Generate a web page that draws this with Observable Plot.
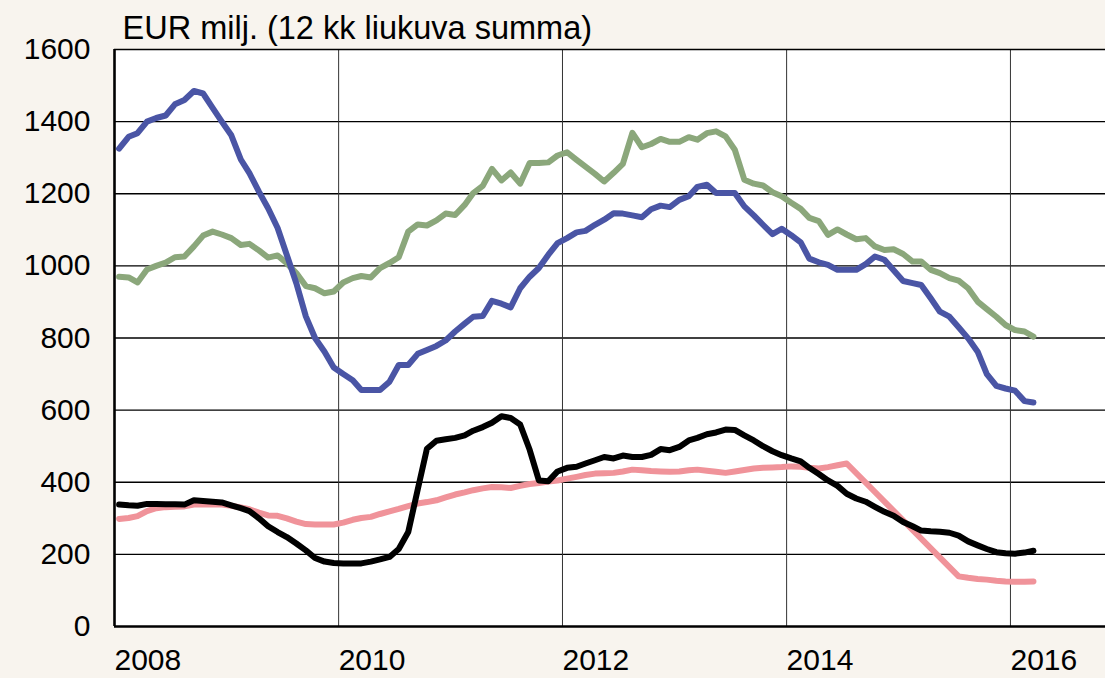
<!DOCTYPE html>
<html>
<head>
<meta charset="utf-8">
<script src="https://cdn.jsdelivr.net/npm/d3@7"></script>
<script src="https://cdn.jsdelivr.net/npm/@observablehq/plot@0.6"></script>
<style>
  html, body { margin: 0; padding: 0; background: #f8f4ee; }
  #chart { width: 1105px; height: 678px; overflow: hidden; }
</style>
</head>
<body>
<div id="chart"></div>
<script>
// Monthly values, Jan 2008 .. Mar 2016 (12-month rolling sums, EUR million)
const title = "EUR milj. (12 kk liukuva summa)";
const startYear = 2008;
const yearTicks = [2008, 2010, 2012, 2014, 2016];
const yTicks = [0, 200, 400, 600, 800, 1000, 1200, 1400, 1600];

const blue = [1325,1358,1368,1400,1410,1417,1448,1460,1485,1478,1438,1400,
  1362,1295,1257,1206,1160,1105,1030,952,860,800,762,718,
  700,683,656,656,656,679,725,725,756,767,778,793,
  818,840,859,861,903,895,885,938,970,994,1031,1063,
  1077,1093,1097,1114,1128,1146,1145,1140,1135,1157,1167,1163,
  1183,1193,1219,1225,1202,1202,1202,1165,1140,1114,1088,1103,
  1085,1065,1020,1010,1003,989,989,989,1005,1026,1017,988,
  958,952,947,910,873,859,830,799,762,700,667,660,
  654,625,621];

const green = [970,968,954,990,1000,1009,1024,1026,1054,1084,1095,1087,
  1077,1058,1061,1043,1023,1029,1007,980,944,938,924,929,
  954,966,972,968,994,1008,1024,1095,1115,1112,1126,1145,
  1141,1169,1202,1222,1269,1237,1259,1228,1285,1285,1287,1306,
  1315,1294,1275,1255,1234,1258,1283,1369,1329,1338,1352,1344,
  1344,1357,1350,1368,1373,1359,1322,1239,1228,1223,1204,1193,
  1175,1158,1133,1124,1086,1101,1087,1074,1077,1054,1044,1046,
  1033,1012,1012,989,980,966,959,938,901,880,859,836,
  822,818,804];

const black = [338,336,335,340,340,339,339,338,350,348,346,344,
  336,328,320,300,278,262,248,230,211,190,180,176,
  175,175,175,180,186,193,215,262,380,493,515,519,
  523,530,543,553,565,583,578,560,490,405,403,430,
  440,443,452,461,470,466,474,470,470,476,492,489,
  498,516,523,533,538,546,545,530,516,500,486,475,
  466,458,440,423,405,390,368,355,346,332,318,307,
  290,278,266,264,263,260,252,236,225,215,206,203,
  202,205,210];

const pink = [298,301,306,320,328,331,332,333,338,338,338,338,
  335,330,325,316,308,307,300,291,284,283,283,283,
  288,296,301,304,312,319,326,334,341,345,350,358,
  366,372,378,383,387,386,384,390,395,398,402,405,
  410,415,420,424,425,426,430,435,433,431,430,429,
  430,433,435,432,429,426,430,434,438,440,441,442,
  444,443,440,438,442,447,452,null,null,null,null,null,
  null,null,null,null,null,null,139,135,132,130,127,125,
  124,124,125];

const colors = {green: "#8ba77b", blue: "#4a55a5", pink: "#f0939a", black: "#000000"};

const rows = blue.map((_, i) => ({
  date: new Date(Date.UTC(startYear, i, 16)),
  blue: blue[i], green: green[i], black: black[i], pink: pink[i]
}));

const x0 = new Date(Date.UTC(startYear, 0, 1));
const x1 = new Date(Date.UTC(2016, 10, 6));
const yearDates = yearTicks.map(y => new Date(Date.UTC(y, 0, 1)));

const lineOpts = (key) => ({
  x: "date", y: key, stroke: colors[key], strokeWidth: 6,
  strokeLinejoin: "round", strokeLinecap: "round", clip: true
});

const chart = Plot.plot({
  width: 1105,
  height: 678,
  marginLeft: 114,
  marginRight: 0,
  marginTop: 49,
  marginBottom: 52,
  style: {background: "transparent", fontFamily: "'Liberation Sans', Arial, sans-serif", fontSize: "30px", color: "#000", overflow: "visible"},
  x: {type: "utc", domain: [x0, x1], axis: null},
  y: {domain: [0, 1600], axis: null},
  marks: [
    Plot.frame({fill: "white", stroke: "none"}),
    Plot.ruleY(yTicks.filter(v => v > 0 && v < 1600), {stroke: "#000", strokeWidth: 1.3}),
    Plot.ruleX(yearDates.slice(1), {stroke: "#333", strokeWidth: 1}),
    Plot.line(rows, lineOpts("green")),
    Plot.line(rows, lineOpts("blue")),
    Plot.line(rows.filter(d => d.pink != null), lineOpts("pink")),
    Plot.line(rows, lineOpts("black")),
    Plot.ruleY([1600], {stroke: "#000", strokeWidth: 1.6}),
    Plot.ruleY([0], {stroke: "#000", strokeWidth: 2.6}),
    Plot.ruleX([x0], {stroke: "#000", strokeWidth: 2.6}),
    Plot.axisY({ticks: yTicks, tickSize: 0, tickPadding: 24, fontSize: 30, tickFormat: d => String(d)}),
    Plot.axisX({ticks: yearDates, tickSize: 0, tickPadding: 22, fontSize: 30, textAnchor: "start", dx: 0, tickFormat: d3.utcFormat("%Y")}),
    Plot.text([title], {frameAnchor: "top-left", text: d => d, textAnchor: "start", lineAnchor: "bottom", dx: 8, dy: -11, fontSize: 32.5})
  ]
});
document.getElementById("chart").appendChild(chart);
</script>
</body>
</html>
